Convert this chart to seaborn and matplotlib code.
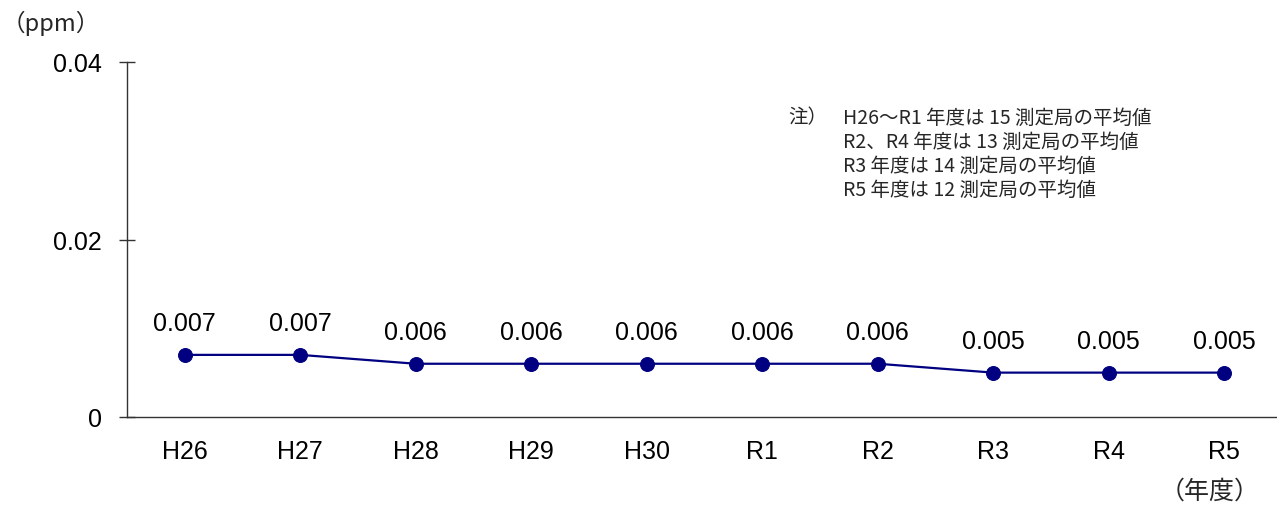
import matplotlib
matplotlib.use("Agg")
import matplotlib.pyplot as plt
import seaborn as sns
import pandas as pd

# Annual mean concentration (ppm) by fiscal year
years = ["H26", "H27", "H28", "H29", "H30", "R1", "R2", "R3", "R4", "R5"]
values = [0.007, 0.007, 0.006, 0.006, 0.006, 0.006, 0.006, 0.005, 0.005, 0.005]
value_labels = ["0.007", "0.007", "0.006", "0.006", "0.006", "0.006", "0.006", "0.005", "0.005", "0.005"]
y_ticks = [0, 0.02, 0.04]
y_tick_labels = ["0", "0.02", "0.04"]
note_lines = [
    "H26～R1 年度は 15 測定局の平均値",
    "R2、R4 年度は 13 測定局の平均値",
    "R3 年度は 14 測定局の平均値",
    "R5 年度は 12 測定局の平均値",
]

sns.set_theme(style="white")
plt.rcParams["font.family"] = ["Liberation Sans", "Noto Sans CJK JP", "DejaVu Sans"]

W, H = 1277, 506
fig = plt.figure(figsize=(W / 100, H / 100), dpi=100)
ax = fig.add_axes([127 / W, 88 / H, (1282 - 127) / W, (418 - 63) / H])

df = pd.DataFrame({"year": years, "value": values, "pos": range(len(years))})
line_color = "#000080"
sns.lineplot(data=df, x="pos", y="value", ax=ax, color=line_color, linewidth=1.6,
             marker="o", markersize=10, markeredgecolor=line_color,
             markerfacecolor=line_color, sort=False)

for i, (v, lab) in enumerate(zip(values, value_labels)):
    ax.annotate(lab, (i, v), xytext=(0, 14), textcoords="offset points",
                ha="center", va="bottom", fontsize=18, color="black")

ax.set_xlim(-0.5, len(years) - 0.5)
ax.set_ylim(0, 0.04)
ax.set_xticks(range(len(years)))
ax.set_xticklabels(years)
ax.set_yticks(y_ticks)
ax.set_yticklabels(y_tick_labels)
ax.set_xlabel("")
ax.set_ylabel("")

for side in ["top", "right"]:
    ax.spines[side].set_visible(False)
for side in ["left", "bottom"]:
    ax.spines[side].set_color("#333333")
    ax.spines[side].set_linewidth(1.0)

ax.tick_params(axis="y", direction="inout", length=12, width=1.0, color="#333333",
               pad=12, labelsize=18, labelcolor="black", left=True)
ax.tick_params(axis="x", length=0, pad=16, labelsize=18, labelcolor="black")

cjk = ["Noto Sans CJK JP", "DejaVu Sans"]
fig.text(2 / W, 1 - 23 / H, "（ppm）", family=cjk, fontsize=17, ha="left", va="center")
fig.text(1210 / W, 1 - 492 / H, "（年度）", family=cjk, fontsize=18, ha="center", va="center")

fig.text(788 / W, 1 - 118 / H, "注）", family=cjk, fontsize=14, ha="left", va="center")
for k, line in enumerate(note_lines):
    fig.text(843 / W, 1 - (118 + 24 * k) / H, line, family=cjk, fontsize=14,
             ha="left", va="center")

fig.savefig("out.png", dpi=100)
